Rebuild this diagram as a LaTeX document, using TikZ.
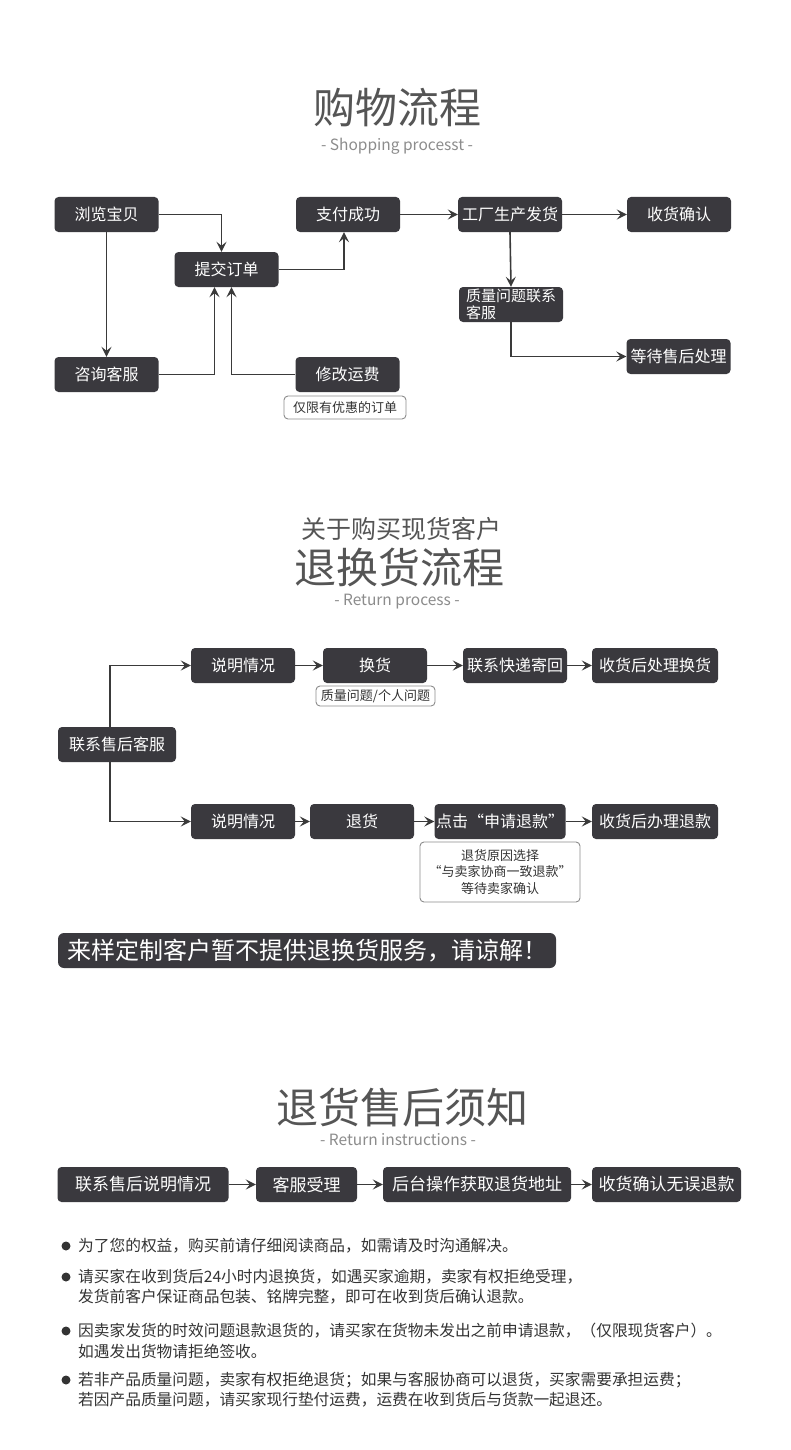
\documentclass[tikz,border=0pt]{standalone}
\usepackage{fontspec}
\setmainfont{Noto Sans CJK SC}
\usepackage{tikz}
\usetikzlibrary{arrows.meta}

\definecolor{boxgray}{HTML}{3A393E}
\definecolor{linegray}{HTML}{3A3A3A}
\definecolor{titlegray}{HTML}{555555}
\definecolor{subgray}{HTML}{8C8C8C}
\definecolor{textgray}{HTML}{333333}

\begin{document}
\begin{tikzpicture}[x=1pt,y=-1pt,
    box/.style={fill=boxgray, rounded corners=4pt, text=white, inner sep=0pt,
        minimum width=104pt, minimum height=35pt, font=\fontsize{16}{18}\selectfont},
    bigbox/.style={box, font=\fontsize{17}{19}\selectfont},
    tagbox/.style={draw=subgray, fill=white, line width=0.9pt, rounded corners=4pt,
        text=textgray, inner sep=0pt, font=\fontsize{13}{16.5}\selectfont},
    heading/.style={text=titlegray, font=\fontsize{42}{44}\selectfont},
    subheading/.style={text=subgray, font=\fontsize{15.5}{17}\selectfont},
    bullet/.style={anchor=west, text=textgray, inner sep=0pt, font=\fontsize{15.7}{18}\selectfont},
    flow/.style={draw=linegray, line width=1.6pt, -{Stealth[length=10pt,width=10pt,inset=4pt]}}]

    \fill[white] (0,0) rectangle (790,1450);

    % Shopping process
    \node[heading] (t1) at (397,108) {购物流程};
    \node[subheading] (s1) at (397,146) {- Shopping processt -};

    \node[box] (browse) at (106.5,214.5) {浏览宝贝};
    \node[box] (submit) at (226.5,269.5) {提交订单};
    \node[box] (pay) at (348,214.5) {支付成功};
    \node[box] (consult) at (106.5,374.5) {咨询客服};
    \node[box] (fee) at (347.5,374.5) {修改运费};
    \node[tagbox, minimum width=122pt, minimum height=23pt] (feenote) at (345,407.5) {仅限有优惠的订单};
    \node[box] (factory) at (510,214.5) {工厂生产发货};
    \node[box] (receive) at (679,214.5) {收货确认};
    \node[box, align=left, font=\fontsize{15}{17}\selectfont] (quality) at (511,304.5) {质量问题联系\\客服};
    \node[box] (wait) at (678.5,356.5) {等待售后处理};

    \draw[flow] (browse.south) -- (consult.north);
    \draw[flow] (browse.east) -| ([xshift=-5pt]submit.north);
    \draw[flow] (consult.east) -| ([xshift=-12pt]submit.south);
    \draw[flow] (fee.west) -| ([xshift=5pt]submit.south);
    \draw[flow] (submit.east) -| ([xshift=-4pt]pay.south);
    \draw[flow] (pay.east) -- (factory.west);
    \draw[flow] (factory.east) -- (receive.west);
    \draw[flow] (factory.south) -- (quality.north);
    \draw[flow] (quality.south) |- (wait.west);

    % Return process
    \node[text=titlegray, font=\fontsize{25}{27}\selectfont] (t2a) at (401,529) {关于购买现货客户};
    \node[heading] (t2) at (399,567) {退换货流程};
    \node[subheading] (s2) at (397,602) {- Return process -};

    \node[box, minimum width=118pt] (contact) at (117,744.5) {联系售后客服};

    \node[box] (ex1) at (243,665.5) {说明情况};
    \node[box] (ex2) at (375,665.5) {换货};
    \node[tagbox, minimum width=119pt, minimum height=20pt] (exnote) at (375.5,696) {质量问题/个人问题};
    \node[box] (ex3) at (515,665.5) {联系快递寄回};
    \node[box, minimum width=126pt] (ex4) at (655,665.5) {收货后处理换货};

    \node[box] (rf1) at (243,821.5) {说明情况};
    \node[box] (rf2) at (362,821.5) {退货};
    \node[box, minimum width=131pt] (rf3) at (500,821.5) {点击“申请退款”};
    \node[box, minimum width=126pt] (rf4) at (655,821.5) {收货后办理退款};
    \node[tagbox, align=center, minimum width=160pt, minimum height=60pt] (rfnote) at (500,872)
        {退货原因选择\\“与卖家协商一致退款”\\等待卖家确认};

    \draw[flow] ([xshift=-7pt]contact.north) |- (ex1.west);
    \draw[flow] ([xshift=-7pt]contact.south) |- (rf1.west);
    \draw[flow] (ex1.east) -- (ex2.west);
    \draw[flow] (ex2.east) -- (ex3.west);
    \draw[flow] (ex3.east) -- (ex4.west);
    \draw[flow] (rf1.east) -- (rf2.west);
    \draw[flow] (rf2.east) -- (rf3.west);
    \draw[flow] (rf3.east) -- (rf4.west);

    \node[box, minimum width=498pt, rounded corners=6pt, font=\fontsize{24}{26}\selectfont]
        (banner) at (307,950.5) {来样定制客户暂不提供退换货服务，请谅解！};

    % Return instructions
    \node[heading] (t3) at (402,1107) {退货售后须知};
    \node[subheading] (s3) at (398,1140) {- Return instructions -};

    \node[bigbox, minimum width=171pt] (r1) at (143,1184.5) {联系售后说明情况};
    \node[bigbox, minimum width=101pt] (r2) at (306.5,1184.5) {客服受理};
    \node[bigbox, minimum width=188pt] (r3) at (477,1184.5) {后台操作获取退货地址};
    \node[bigbox, minimum width=149pt] (r4) at (666.5,1184.5) {收货确认无误退款};

    \draw[flow] (r1.east) -- (r2.west);
    \draw[flow] (r2.east) -- (r3.west);
    \draw[flow] (r3.east) -- (r4.west);

    % Notes
    \foreach \y in {1246,1277,1331,1380}
        \fill[textgray] (66,\y) circle (4.5);
    \node[bullet] (b1) at (78,1246) {为了您的权益，购买前请仔细阅读商品，如需请及时沟通解决。};
    \node[bullet] (b2) at (78,1277) {请买家在收到货后24小时内退换货，如遇买家逾期，卖家有权拒绝受理，};
    \node[bullet] (b2b) at (78,1297) {发货前客户保证商品包装、铭牌完整，即可在收到货后确认退款。};
    \node[bullet] (b3) at (78,1331) {因卖家发货的时效问题退款退货的，请买家在货物未发出之前申请退款，（仅限现货客户）。};
    \node[bullet] (b3b) at (78,1351) {如遇发出货物请拒绝签收。};
    \node[bullet] (b4) at (78,1380) {若非产品质量问题，卖家有权拒绝退货；如果与客服协商可以退货，买家需要承担运费；};
    \node[bullet] (b4b) at (78,1400) {若因产品质量问题，请买家现行垫付运费，运费在收到货后与货款一起退还。};
\end{tikzpicture}
\end{document}
